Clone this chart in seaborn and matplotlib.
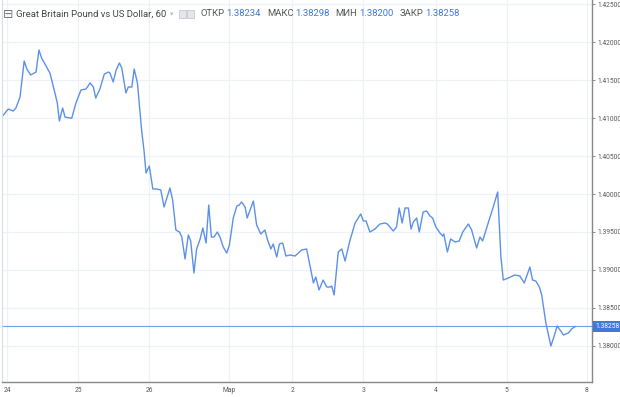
import matplotlib
matplotlib.use("Agg")
import matplotlib.pyplot as plt
import matplotlib.transforms as mtransforms
from matplotlib import font_manager
from matplotlib.patches import Rectangle
import pandas as pd
import seaborn as sns

# GBPUSD, 60 min bars, x = hours since the start of the 24th
hours = [-1.5, 0.4, 2.1, 3.0, 4.4, 5.8, 6.7, 8.0, 9.8, 10.8,
         11.7, 13.4, 14.5, 16.2, 17.0, 17.7, 18.8, 19.6, 21.3, 21.9,
         23.3, 25.0, 26.7, 28.1, 29.2, 30.0, 31.4, 32.9, 34.3, 34.8,
         35.9, 36.9, 38.0, 38.8, 40.2, 41.0, 42.2, 43.0, 44.1, 45.5,
         46.3, 47.0, 48.1, 49.3, 50.6, 52.0, 53.1, 55.1, 56.0, 57.1,
         58.3, 59.1, 60.2, 61.3, 62.1, 63.2, 64.1, 65.3, 66.2, 67.3,
         68.2, 69.1, 70.0, 71.1, 72.0, 73.1, 74.3, 75.2, 76.5, 77.7,
         78.5, 79.3, 80.5, 81.2, 82.2, 83.3, 84.4, 85.8, 87.2, 88.0,
         89.2, 90.0, 91.2, 92.1, 93.2, 94.3, 95.7, 97.4, 99.6, 101.3,
         102.4, 103.6, 104.4, 105.5, 106.9, 108.1, 109.2, 109.8, 110.6, 112.0,
         113.2, 114.3, 116.0, 117.7, 119.6, 120.5, 121.4, 122.7, 124.4, 126.1,
         127.8, 128.6, 130.6, 131.7, 132.6, 133.6, 134.6, 135.7, 136.6, 137.4,
         138.5, 139.4, 140.7, 141.9, 143.0, 143.9, 145.0, 146.4, 147.3, 147.7,
         148.9, 150.0, 151.5, 152.9, 154.1, 156.0, 157.1, 158.8, 159.9, 160.8,
         162.7, 164.4, 165.9, 167.0, 167.8, 169.5, 171.7, 173.4, 174.9, 176.8,
         177.7, 178.8, 180.0, 180.8, 182.2, 183.9, 184.9, 186.0, 187.5, 188.1,
         189.8, 190.9, 192.2]

prices = [1.41026, 1.41118, 1.41092, 1.41132, 1.41276, 1.41750, 1.41645, 1.41566, 1.41605, 1.41895,
          1.41789, 1.41671, 1.41592, 1.41329, 1.41197, 1.40961, 1.41132, 1.41013, 1.41000, 1.41000,
          1.41197, 1.41368, 1.41382, 1.41461, 1.41408, 1.41263, 1.41382, 1.41579, 1.41605, 1.41592,
          1.41474, 1.41632, 1.41724, 1.41658, 1.41329, 1.41408, 1.41408, 1.41645, 1.41461, 1.40842,
          1.40579, 1.40276, 1.40368, 1.40066, 1.40066, 1.40053, 1.39829, 1.40079, 1.39921, 1.39526,
          1.39500, 1.39434, 1.39145, 1.39461, 1.39382, 1.38961, 1.39276, 1.39408, 1.39553, 1.39355,
          1.39855, 1.39434, 1.39434, 1.39500, 1.39434, 1.39303, 1.39224, 1.39329, 1.39684, 1.39842,
          1.39855, 1.39895, 1.39829, 1.39684, 1.39789, 1.39908, 1.39592, 1.39474, 1.39526, 1.39408,
          1.39276, 1.39342, 1.39171, 1.39342, 1.39355, 1.39184, 1.39197, 1.39184, 1.39263, 1.39276,
          1.39066, 1.38829, 1.38908, 1.38737, 1.38868, 1.38776, 1.38776, 1.38789, 1.38671, 1.39237,
          1.39276, 1.39118, 1.39395, 1.39618, 1.39737, 1.39645, 1.39645, 1.39500, 1.39539, 1.39605,
          1.39618, 1.39605, 1.39513, 1.39566, 1.39816, 1.39618, 1.39816, 1.39816, 1.39539, 1.39632,
          1.39684, 1.39500, 1.39763, 1.39776, 1.39711, 1.39684, 1.39566, 1.39487, 1.39447, 1.39474,
          1.39237, 1.39408, 1.39368, 1.39382, 1.39500, 1.39605, 1.39526, 1.39289, 1.39434, 1.39382,
          1.39618, 1.39829, 1.40026, 1.39171, 1.38868, 1.38895, 1.38934, 1.38921, 1.38829, 1.39039,
          1.38868, 1.38855, 1.38776, 1.38671, 1.38303, 1.38000, 1.38118, 1.38263, 1.38184, 1.38145,
          1.38171, 1.38224, 1.38258]

day_ticks = [0, 24, 48, 75, 96.5, 120.5, 145, 169, 196]
day_labels = ["24", "25", "26", "Мар", "2", "3", "4", "5", "8"]
price_ticks = [1.380, 1.385, 1.390, 1.395, 1.400, 1.405, 1.410, 1.415, 1.420, 1.425]

symbol = "Great Britain Pound vs US Dollar, 60"
ohlc_names = ["ОТКР", "МАКС", "МИН", "ЗАКР"]
ohlc_values = ["1.38234", "1.38298", "1.38200", "1.38258"]
last_price = 1.38258

LINE = "#5d90e8"
BLUE = "#3f7ad8"


def pick_font(names):
    for n in names:
        try:
            font_manager.findfont(font_manager.FontProperties(family=n), fallback_to_default=False)
            return n
        except ValueError:
            pass
    return "DejaVu Sans"


sns.set_style("white")
base_font = pick_font(["Liberation Sans Narrow", "Roboto", "Liberation Sans"])
plt.rcParams["font.family"] = [base_font, "DejaVu Sans"]

df = pd.DataFrame({"hour": hours, "price": prices})

W, H = 620, 397
fig = plt.figure(figsize=(W / 100, H / 100), dpi=100)
renderer = fig.canvas.get_renderer()


def text_width(s, fs):
    t = fig.text(0, 0, s, fontsize=fs)
    w = t.get_window_extent(renderer).width
    t.remove()
    return w


def fit_size(s, target_px):
    return 10 * target_px / text_width(s, 10)


head_fs = fit_size(symbol, 150)
tick_fs = fit_size("1.42500", 24)

ax = fig.add_axes([2 / W, 15 / H, 590 / W, 382 / H])
sns.lineplot(data=df, x="hour", y="price", ax=ax, color=LINE, linewidth=1.0,
             estimator=None, sort=False)
ax.axhline(last_price, color="#6f9de6", lw=0.8, zorder=1)

ax.set_xlim(-1.7, 197.8)
ax.set_ylim(1.37526, 1.42553)
ax.set_xticks(day_ticks)
ax.set_xticklabels(day_labels)
ax.set_yticks(price_ticks)
ax.set_yticklabels([f"{v:.5f}" for v in price_ticks])
ax.yaxis.tick_right()
ax.set_xlabel("")
ax.set_ylabel("")
ax.grid(True, color="#eef1f7", lw=0.9)
ax.set_axisbelow(True)
ax.tick_params(axis="both", length=2.5, width=0.6, color="#777",
               labelsize=tick_fs, labelcolor="#555", pad=1.2)
ax.spines["top"].set_visible(False)
ax.spines["left"].set_color("#d9dce3")
ax.spines["left"].set_linewidth(0.8)
for side in ["right", "bottom"]:
    ax.spines[side].set_color("#888888")
    ax.spines[side].set_linewidth(1.0)

# price label on the scale
trans = mtransforms.blended_transform_factory(ax.transAxes, ax.transData)
ax.text(1.0 + 3 / 590, last_price, "1.38258", transform=trans, ha="left", va="center",
        color="white", fontsize=tick_fs, clip_on=False,
        bbox=dict(boxstyle="square,pad=0.3", fc=BLUE, ec="none"))

# header line
ty = 1 - 14 / H
fig.text(3 / W, ty, "⊟", fontsize=9, color="#777", va="center", family="DejaVu Sans")
fig.text(16 / W, ty, symbol, fontsize=head_fs, color="#444", va="center")
x = 16 + text_width(symbol, head_fs) + 4
fig.text(x / W, ty, "▾", fontsize=5, color="#bbb", va="center", family="DejaVu Sans")
x += 9
for k in range(2):
    fig.patches.append(Rectangle((x / W, 1 - 18 / H), 7 / W, 8 / H, transform=fig.transFigure,
                                 fc="#e4e6ea", ec="#c5c8ce", lw=0.6))
    x += 8
x += 5
for n, v in zip(ohlc_names, ohlc_values):
    fig.text(x / W, ty, n, fontsize=head_fs, color="#555", va="center")
    x += text_width(n, head_fs) + 2
    fig.text(x / W, ty, v, fontsize=head_fs, color=BLUE, va="center")
    x += text_width(v, head_fs) + 6

fig.savefig("out.png", dpi=100)
